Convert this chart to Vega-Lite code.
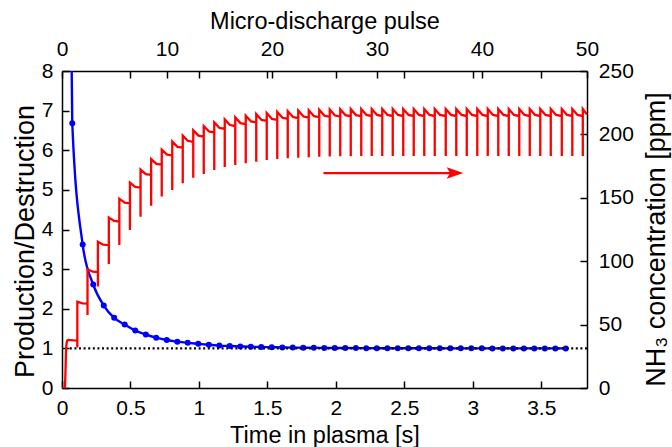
{
  "$schema": "https://vega.github.io/schema/vega-lite/v6.json",
  "autosize": "none",
  "width": 525,
  "height": 317,
  "padding": {"left": 62, "top": 71, "right": 85, "bottom": 59},
  "background": "white",
  "config": {
    "font": "Liberation Sans",
    "view": {"stroke": null},
    "axis": {
      "labelFont": "Liberation Sans",
      "labelFontSize": 21,
      "labelColor": "black",
      "titleFont": "Liberation Sans",
      "titleFontSize": 23.5,
      "titleFontWeight": "normal",
      "titleColor": "black",
      "domainColor": "black",
      "domainWidth": 1.5,
      "tickColor": "black",
      "tickWidth": 1.5,
      "tickSize": -7,
      "grid": false,
      "labelFlush": false,
      "labelOverlap": false
    }
  },
  "datasets": {
    "blue": [
      {"t": 0.066, "r": 9.5},
      {"t": 0.075, "r": 6.68},
      {"t": 0.151, "r": 3.62},
      {"t": 0.228, "r": 2.61},
      {"t": 0.305, "r": 2.08},
      {"t": 0.381, "r": 1.77},
      {"t": 0.458, "r": 1.6},
      {"t": 0.535, "r": 1.45},
      {"t": 0.612, "r": 1.35},
      {"t": 0.688, "r": 1.27},
      {"t": 0.765, "r": 1.21},
      {"t": 0.842, "r": 1.17},
      {"t": 0.918, "r": 1.14},
      {"t": 0.995, "r": 1.115},
      {"t": 1.072, "r": 1.09},
      {"t": 1.149, "r": 1.07},
      {"t": 1.225, "r": 1.06},
      {"t": 1.302, "r": 1.05},
      {"t": 1.379, "r": 1.04},
      {"t": 1.455, "r": 1.035},
      {"t": 1.532, "r": 1.03},
      {"t": 1.609, "r": 1.025},
      {"t": 1.685, "r": 1.02},
      {"t": 1.762, "r": 1.017},
      {"t": 1.839, "r": 1.014},
      {"t": 1.915, "r": 1.012},
      {"t": 1.992, "r": 1.01},
      {"t": 2.069, "r": 1.008},
      {"t": 2.146, "r": 1.007},
      {"t": 2.222, "r": 1.006},
      {"t": 2.299, "r": 1.005},
      {"t": 2.376, "r": 1.004},
      {"t": 2.452, "r": 1.003},
      {"t": 2.529, "r": 1.003},
      {"t": 2.606, "r": 1.002},
      {"t": 2.682, "r": 1.002},
      {"t": 2.759, "r": 1.002},
      {"t": 2.836, "r": 1.001},
      {"t": 2.912, "r": 1.001},
      {"t": 2.989, "r": 1.001},
      {"t": 3.066, "r": 1.001},
      {"t": 3.143, "r": 1.0},
      {"t": 3.219, "r": 1.0},
      {"t": 3.296, "r": 1.0},
      {"t": 3.373, "r": 1.0},
      {"t": 3.449, "r": 1.0},
      {"t": 3.526, "r": 1.0},
      {"t": 3.603, "r": 1.0},
      {"t": 3.679, "r": 1.0}
    ],
    "red": [
      {"p": 0, "v": 0, "i": 0},
      {"p": 0.28, "v": 0, "i": 1},
      {"p": 0.33, "v": 12, "i": 2},
      {"p": 0.38, "v": 28, "i": 3},
      {"p": 0.43, "v": 35, "i": 4},
      {"p": 0.5, "v": 37.5, "i": 5},
      {"p": 0.6, "v": 37.9, "i": 6},
      {"p": 1.46, "v": 37.3, "i": 7}, {"p": 1.46, "v": 32, "i": 8}, {"p": 1.46, "v": 68, "i": 9}, {"p": 1.96, "v": 66.7, "i": 10},
      {"p": 2.43, "v": 66.5, "i": 11}, {"p": 2.43, "v": 57.6, "i": 12}, {"p": 2.43, "v": 93.6, "i": 13}, {"p": 2.93, "v": 91.7, "i": 14},
      {"p": 3.42, "v": 91.4, "i": 15}, {"p": 3.42, "v": 80, "i": 16}, {"p": 3.42, "v": 115.4, "i": 17}, {"p": 3.92, "v": 113, "i": 18},
      {"p": 4.46, "v": 112.6, "i": 19}, {"p": 4.46, "v": 97.8, "i": 20}, {"p": 4.46, "v": 134.4, "i": 21}, {"p": 4.96, "v": 131.7, "i": 22},
      {"p": 5.46, "v": 131.2, "i": 23}, {"p": 5.46, "v": 112.8, "i": 24}, {"p": 5.46, "v": 149.3, "i": 25}, {"p": 5.96, "v": 146.2, "i": 26},
      {"p": 6.47, "v": 145.7, "i": 27}, {"p": 6.47, "v": 124.6, "i": 28}, {"p": 6.47, "v": 162, "i": 29}, {"p": 6.97, "v": 158.6, "i": 30},
      {"p": 7.48, "v": 158, "i": 31}, {"p": 7.48, "v": 135, "i": 32}, {"p": 7.48, "v": 172.3, "i": 33}, {"p": 7.98, "v": 168.7, "i": 34},
      {"p": 8.49, "v": 168.1, "i": 35}, {"p": 8.49, "v": 143.8, "i": 36}, {"p": 8.49, "v": 180.5, "i": 37}, {"p": 8.99, "v": 176.8, "i": 38},
      {"p": 9.5, "v": 176.1, "i": 39}, {"p": 9.5, "v": 151, "i": 40}, {"p": 9.5, "v": 188, "i": 41}, {"p": 10.0, "v": 184.1, "i": 42},
      {"p": 10.5, "v": 183.4, "i": 43}, {"p": 10.5, "v": 156.1, "i": 44}, {"p": 10.5, "v": 194.3, "i": 45}, {"p": 11.0, "v": 190.2, "i": 46},
      {"p": 11.5, "v": 189.5, "i": 47}, {"p": 11.5, "v": 161.4, "i": 48}, {"p": 11.5, "v": 199, "i": 49}, {"p": 12.0, "v": 194.8, "i": 50},
      {"p": 12.5, "v": 194.1, "i": 51}, {"p": 12.5, "v": 165.8, "i": 52}, {"p": 12.5, "v": 203.2, "i": 53}, {"p": 13.0, "v": 199, "i": 54},
      {"p": 13.5, "v": 198.2, "i": 55}, {"p": 13.5, "v": 168.8, "i": 56}, {"p": 13.5, "v": 206.6, "i": 57}, {"p": 14.0, "v": 202.3, "i": 58},
      {"p": 14.5, "v": 201.5, "i": 59}, {"p": 14.5, "v": 171.9, "i": 60}, {"p": 14.5, "v": 209.5, "i": 61}, {"p": 15.0, "v": 205.1, "i": 62},
      {"p": 15.5, "v": 204.3, "i": 63}, {"p": 15.5, "v": 174.3, "i": 64}, {"p": 15.5, "v": 211.8, "i": 65}, {"p": 16.0, "v": 207.4, "i": 66},
      {"p": 16.5, "v": 206.6, "i": 67}, {"p": 16.5, "v": 175.9, "i": 68}, {"p": 16.5, "v": 213.4, "i": 69}, {"p": 17.0, "v": 208.9, "i": 70},
      {"p": 17.5, "v": 208.1, "i": 71}, {"p": 17.5, "v": 177.2, "i": 72}, {"p": 17.5, "v": 214.7, "i": 73}, {"p": 18.0, "v": 210.2, "i": 74},
      {"p": 18.5, "v": 209.4, "i": 75}, {"p": 18.5, "v": 178.5, "i": 76}, {"p": 18.5, "v": 216, "i": 77}, {"p": 19.0, "v": 211.4, "i": 78},
      {"p": 19.5, "v": 210.6, "i": 79}, {"p": 19.5, "v": 179.8, "i": 80}, {"p": 19.5, "v": 216.8, "i": 81}, {"p": 20.0, "v": 212.2, "i": 82},
      {"p": 20.5, "v": 211.4, "i": 83}, {"p": 20.5, "v": 180.6, "i": 84}, {"p": 20.5, "v": 217.7, "i": 85}, {"p": 21.0, "v": 213.1, "i": 86},
      {"p": 21.5, "v": 212.3, "i": 87}, {"p": 21.5, "v": 181.1, "i": 88}, {"p": 21.5, "v": 218.3, "i": 89}, {"p": 22.0, "v": 213.7, "i": 90},
      {"p": 22.5, "v": 212.9, "i": 91}, {"p": 22.5, "v": 181.6, "i": 92}, {"p": 22.5, "v": 218.8, "i": 93}, {"p": 23.0, "v": 214.1, "i": 94},
      {"p": 23.5, "v": 213.3, "i": 95}, {"p": 23.5, "v": 182, "i": 96}, {"p": 23.5, "v": 219.1, "i": 97}, {"p": 24.0, "v": 214.4, "i": 98},
      {"p": 24.5, "v": 213.6, "i": 99}, {"p": 24.5, "v": 182.3, "i": 100}, {"p": 24.5, "v": 219.4, "i": 101}, {"p": 25.0, "v": 214.7, "i": 102},
      {"p": 25.5, "v": 213.9, "i": 103}, {"p": 25.5, "v": 182.5, "i": 104}, {"p": 25.5, "v": 219.6, "i": 105}, {"p": 26.0, "v": 214.9, "i": 106},
      {"p": 26.5, "v": 214.1, "i": 107}, {"p": 26.5, "v": 182.7, "i": 108}, {"p": 26.5, "v": 219.8, "i": 109}, {"p": 27.0, "v": 215.1, "i": 110},
      {"p": 27.5, "v": 214.3, "i": 111}, {"p": 27.5, "v": 182.8, "i": 112}, {"p": 27.5, "v": 219.9, "i": 113}, {"p": 28.0, "v": 215.2, "i": 114},
      {"p": 28.5, "v": 214.4, "i": 115}, {"p": 28.5, "v": 182.9, "i": 116}, {"p": 28.5, "v": 220, "i": 117}, {"p": 29.0, "v": 215.3, "i": 118},
      {"p": 29.5, "v": 214.5, "i": 119}, {"p": 29.5, "v": 183, "i": 120}, {"p": 29.5, "v": 220, "i": 121}, {"p": 30.0, "v": 215.3, "i": 122},
      {"p": 30.5, "v": 214.5, "i": 123}, {"p": 30.5, "v": 183, "i": 124}, {"p": 30.5, "v": 220, "i": 125}, {"p": 31.0, "v": 215.3, "i": 126},
      {"p": 31.5, "v": 214.5, "i": 127}, {"p": 31.5, "v": 183, "i": 128}, {"p": 31.5, "v": 220, "i": 129}, {"p": 32.0, "v": 215.3, "i": 130},
      {"p": 32.5, "v": 214.5, "i": 131}, {"p": 32.5, "v": 183, "i": 132}, {"p": 32.5, "v": 220, "i": 133}, {"p": 33.0, "v": 215.3, "i": 134},
      {"p": 33.5, "v": 214.5, "i": 135}, {"p": 33.5, "v": 183, "i": 136}, {"p": 33.5, "v": 220, "i": 137}, {"p": 34.0, "v": 215.3, "i": 138},
      {"p": 34.5, "v": 214.5, "i": 139}, {"p": 34.5, "v": 183, "i": 140}, {"p": 34.5, "v": 220, "i": 141}, {"p": 35.0, "v": 215.3, "i": 142},
      {"p": 35.5, "v": 214.5, "i": 143}, {"p": 35.5, "v": 183, "i": 144}, {"p": 35.5, "v": 220, "i": 145}, {"p": 36.0, "v": 215.3, "i": 146},
      {"p": 36.55, "v": 214.5, "i": 147}, {"p": 36.55, "v": 183, "i": 148}, {"p": 36.55, "v": 220, "i": 149}, {"p": 37.05, "v": 215.3, "i": 150},
      {"p": 37.55, "v": 214.5, "i": 151}, {"p": 37.55, "v": 183, "i": 152}, {"p": 37.55, "v": 220, "i": 153}, {"p": 38.05, "v": 215.3, "i": 154},
      {"p": 38.55, "v": 214.5, "i": 155}, {"p": 38.55, "v": 183, "i": 156}, {"p": 38.55, "v": 220, "i": 157}, {"p": 39.05, "v": 215.3, "i": 158},
      {"p": 39.55, "v": 214.5, "i": 159}, {"p": 39.55, "v": 183, "i": 160}, {"p": 39.55, "v": 220, "i": 161}, {"p": 40.05, "v": 215.3, "i": 162},
      {"p": 40.55, "v": 214.5, "i": 163}, {"p": 40.55, "v": 183, "i": 164}, {"p": 40.55, "v": 220, "i": 165}, {"p": 41.05, "v": 215.3, "i": 166},
      {"p": 41.55, "v": 214.5, "i": 167}, {"p": 41.55, "v": 183, "i": 168}, {"p": 41.55, "v": 220, "i": 169}, {"p": 42.05, "v": 215.3, "i": 170},
      {"p": 42.55, "v": 214.5, "i": 171}, {"p": 42.55, "v": 183, "i": 172}, {"p": 42.55, "v": 220, "i": 173}, {"p": 43.05, "v": 215.3, "i": 174},
      {"p": 43.55, "v": 214.5, "i": 175}, {"p": 43.55, "v": 183, "i": 176}, {"p": 43.55, "v": 220, "i": 177}, {"p": 44.05, "v": 215.3, "i": 178},
      {"p": 44.55, "v": 214.5, "i": 179}, {"p": 44.55, "v": 183, "i": 180}, {"p": 44.55, "v": 220, "i": 181}, {"p": 45.05, "v": 215.3, "i": 182},
      {"p": 45.55, "v": 214.5, "i": 183}, {"p": 45.55, "v": 183, "i": 184}, {"p": 45.55, "v": 220, "i": 185}, {"p": 46.05, "v": 215.3, "i": 186},
      {"p": 46.55, "v": 214.5, "i": 187}, {"p": 46.55, "v": 183, "i": 188}, {"p": 46.55, "v": 220, "i": 189}, {"p": 47.05, "v": 215.3, "i": 190},
      {"p": 47.6, "v": 214.5, "i": 191}, {"p": 47.6, "v": 183, "i": 192}, {"p": 47.6, "v": 220, "i": 193}, {"p": 48.1, "v": 215.3, "i": 194},
      {"p": 48.6, "v": 214.5, "i": 195}, {"p": 48.6, "v": 183, "i": 196}, {"p": 48.6, "v": 220, "i": 197}, {"p": 49.1, "v": 215.3, "i": 198},
      {"p": 49.6, "v": 214.5, "i": 199}, {"p": 49.6, "v": 183, "i": 200}, {"p": 49.6, "v": 220, "i": 201}, {"p": 50.0, "v": 215.6, "i": 202}
    ],
    "arrow": [
      {"p1": 24.9, "p2": 37.0, "ph": 37.43, "v": 169.5}
    ],
    "ref": [
      {"r": 1}
    ]
  },
  "layer": [
    {
      "layer": [
        {
          "data": {"name": "blue"},
          "mark": {"type": "line", "color": "#0000ff", "strokeWidth": 2.4, "interpolate": "monotone", "clip": true},
          "encoding": {
            "x": {
              "field": "t", "type": "quantitative",
              "scale": {"domain": [0, 3.834], "nice": false, "zero": false},
              "axis": {
                "orient": "bottom",
                "values": [0, 0.5, 1, 1.5, 2, 2.5, 3, 3.5],
                "format": "~g",
                "title": "Time in plasma [s]",
                "labelPadding": 16.5,
                "titleX": 262.5,
                "titleY": 54.5,
                "titleAlign": "center",
                "titleBaseline": "alphabetic"
              }
            },
            "y": {
              "field": "r", "type": "quantitative",
              "scale": {"domain": [0, 8], "nice": false, "zero": false},
              "axis": {
                "orient": "left",
                "values": [0, 1, 2, 3, 4, 5, 6, 7, 8],
                "format": "d",
                "title": "Production/Destruction",
                "labelPadding": 16,
                "titleAngle": 270,
                "titleX": -28.7,
                "titleY": 170,
                "titleAlign": "center",
                "titleBaseline": "alphabetic",
                "titleFontSize": 27
              }
            }
          }
        },
        {
          "data": {"name": "blue"},
          "mark": {"type": "point", "filled": true, "color": "#0000ff", "size": 36, "opacity": 1, "clip": true},
          "encoding": {
            "x": {
              "field": "t", "type": "quantitative",
              "axis": {"orient": "top", "labels": false, "domain": false, "title": null, "values": [0.5, 1, 1.5, 2, 2.5, 3, 3.5]}
            },
            "y": {"field": "r", "type": "quantitative", "axis": null}
          }
        },
        {
          "data": {"name": "ref"},
          "mark": {"type": "rule", "color": "black", "strokeWidth": 2.2, "strokeDash": [2, 2.6]},
          "encoding": {
            "y": {"field": "r", "type": "quantitative", "axis": null}
          }
        }
      ],
      "resolve": {"axis": {"x": "independent", "y": "independent"}}
    },
    {
      "layer": [
        {
          "data": {"name": "red"},
          "mark": {"type": "line", "color": "#ff0000", "strokeWidth": 2.3, "clip": true},
          "encoding": {
            "x": {
              "field": "p", "type": "quantitative",
              "scale": {"domain": [0, 50], "nice": false, "zero": false},
              "axis": {
                "orient": "top",
                "values": [0, 10, 20, 30, 40, 50],
                "format": "d",
                "title": "Micro-discharge pulse",
                "labelPadding": 18.8,
                "titleX": 262.5,
                "titleY": -42.7,
                "titleAlign": "center",
                "titleBaseline": "alphabetic"
              }
            },
            "y": {
              "field": "v", "type": "quantitative",
              "scale": {"domain": [0, 250], "nice": false, "zero": false},
              "axis": {
                "orient": "right",
                "values": [0, 50, 100, 150, 200, 250],
                "format": "d",
                "title": "NH₃ concentration [ppm]",
                "labelPadding": 18.3,
                "titleAngle": 270,
                "titleX": 77.3,
                "titleY": 168,
                "titleAlign": "center",
                "titleBaseline": "alphabetic",
                "titleFontSize": 27
              }
            },
            "order": {"field": "i", "type": "quantitative"}
          }
        },
        {
          "data": {"name": "arrow"},
          "mark": {"type": "rule", "color": "#ff0000", "strokeWidth": 2.3},
          "encoding": {
            "x": {"field": "p1", "type": "quantitative", "axis": null},
            "x2": {"field": "p2"},
            "y": {"field": "v", "type": "quantitative", "axis": null}
          }
        },
        {
          "data": {"name": "arrow"},
          "mark": {"type": "point", "filled": true, "color": "#ff0000", "opacity": 1, "size": 276, "strokeWidth": 0, "shape": "M 1 0 L -1 -0.69 L -0.6 0 L -1 0.69 Z"},
          "encoding": {
            "x": {"field": "ph", "type": "quantitative", "axis": null},
            "y": {"field": "v", "type": "quantitative", "axis": null}
          }
        }
      ],
      "resolve": {"axis": {"x": "independent", "y": "independent"}}
    }
  ],
  "resolve": {"scale": {"x": "independent", "y": "independent"}}
}
